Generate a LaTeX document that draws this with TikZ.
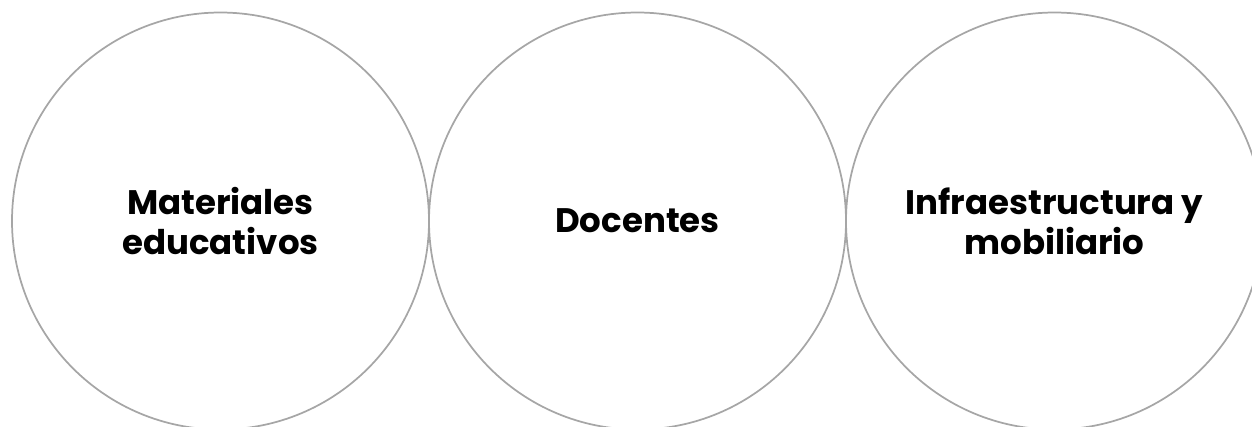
\documentclass[tikz,border=0pt]{standalone}
\usepackage{fontspec}
\newfontfamily\gotisch{Poppins}
\usepackage{tikz}
\usetikzlibrary{positioning}
\usepackage{xcolor}
\definecolor{kreisgrau}{RGB}{166,166,166}
\begin{document}
\begin{tikzpicture}[x=0.75pt, y=-0.75pt, font=\gotisch\bfseries\fontsize{25.5}{30}\selectfont,
  feld/.style={circle, draw=kreisgrau, line width=1.3pt, minimum size=312.75pt, inner sep=0pt, outer sep=0pt, align=center}]
  % Rahmen, Kreise laufen rechts und unten hinaus
  \useasboundingbox (0,0) rectangle (1252,426);
  \clip (0,0) rectangle (1252,426);
  % drei Bereiche
  \node[feld] (mat) at (220.5,221) {Materiales\\educativos};
  \node[feld, right=0pt of mat] (doc) {Docentes};
  \node[feld, right=0pt of doc] (inf) {Infraestructura y\\mobiliario};
\end{tikzpicture}
\end{document}
